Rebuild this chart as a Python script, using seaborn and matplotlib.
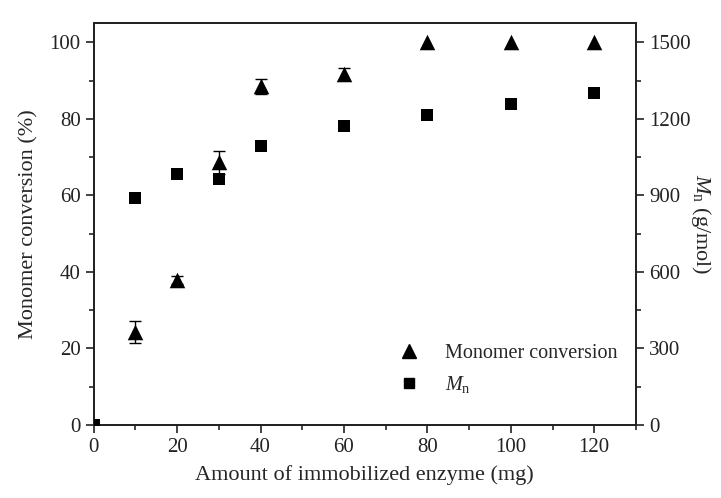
import matplotlib
matplotlib.use("Agg")
import matplotlib.pyplot as plt
import seaborn as sns
import pandas as pd
from matplotlib.ticker import MultipleLocator

enzyme_mg = [0, 10, 20, 30, 40, 60, 80, 100, 120]
conversion = [0, 24.3, 37.8, 68.6, 88.5, 91.7, 100, 100, 100]
conversion_err = [0, 3.0, 1.0, 3.0, 2.0, 1.5, 0, 0, 0]
mn_values = [0, 890, 985, 965, 1094, 1172, 1214, 1257, 1300]

x_label = "Amount of immobilized enzyme (mg)"
y_left_label = "Monomer conversion (%)"
y_right_label = r"$M_\mathrm{n}$ (g/mol)"
legend_labels = ["Monomer conversion", r"$M_\mathrm{n}$"]

sns.set_style("ticks")
plt.rcParams["font.family"] = ["Liberation Serif", "DejaVu Serif"]
plt.rcParams["mathtext.fontset"] = "custom"
plt.rcParams["mathtext.rm"] = "Liberation Serif"
plt.rcParams["mathtext.it"] = "Liberation Serif:italic"

df = pd.DataFrame({"x": enzyme_mg, "conv": conversion, "err": conversion_err, "mn": mn_values})
df_err = df[df["err"] > 0]

fig = plt.figure(figsize=(7.21, 4.98), dpi=100)
ax = fig.add_axes([0.130, 0.1466, 0.752, 0.807])
ax2 = ax.twinx()

ax.errorbar(df_err["x"], df_err["conv"], yerr=df_err["err"], fmt="none", ecolor="black",
            elinewidth=1.0, capsize=4.5, capthick=1.0, zorder=3)
sns.scatterplot(data=df, x="x", y="conv", marker="^", s=125, color="black",
                edgecolor="black", linewidth=0, ax=ax, zorder=4)
sns.scatterplot(data=df, x="x", y="mn", marker="s", s=70, color="black",
                edgecolor="black", linewidth=0, ax=ax2, zorder=4)

ax.set_xlim(0, 130)
ax.set_ylim(0, 105)
ax2.set_ylim(0, 1575)

ax.xaxis.set_major_locator(MultipleLocator(20))
ax.xaxis.set_minor_locator(MultipleLocator(10))
ax.yaxis.set_major_locator(MultipleLocator(20))
ax.yaxis.set_minor_locator(MultipleLocator(10))
ax2.yaxis.set_major_locator(MultipleLocator(300))
ax2.yaxis.set_minor_locator(MultipleLocator(150))

for a in (ax, ax2):
    for s in a.spines.values():
        s.set_linewidth(1.3)
        s.set_color("#222222")
    a.tick_params(axis="both", which="major", direction="out", length=6, width=1.2,
                  labelsize=15, colors="#222222")
    a.tick_params(axis="both", which="minor", direction="out", length=3.5, width=1.2)

ax.set_xlabel(x_label, fontsize=16, labelpad=6)
ax.set_ylabel(y_left_label, fontsize=16, labelpad=8)
ax2.set_ylabel(y_right_label, fontsize=16, rotation=270, labelpad=16)

h1 = plt.Line2D([], [], marker="^", color="black", linestyle="none", markersize=9.5)
h2 = plt.Line2D([], [], marker="s", color="black", linestyle="none", markersize=7)
ax.legend([h1, h2], legend_labels, loc="lower right", bbox_to_anchor=(1.0, 0.03),
          frameon=False, fontsize=14.5, handletextpad=0.8, labelspacing=0.55)

fig.savefig("out.png", dpi=100)
